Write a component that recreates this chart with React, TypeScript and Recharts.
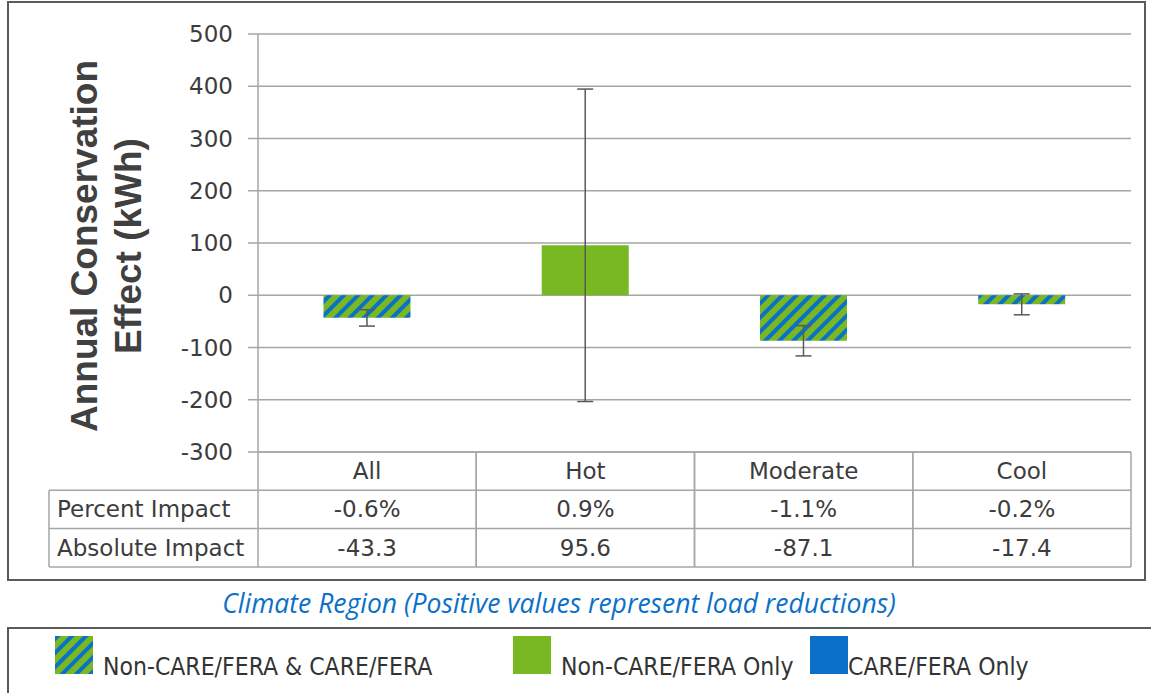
import { Bar, BarChart, CartesianGrid, Cell, ErrorBar, XAxis, YAxis } from 'recharts';

const regions = ['All', 'Hot', 'Moderate', 'Cool'];
const absoluteImpact = [-43.3, 95.6, -87.1, -17.4];
const percentImpact = ['-0.6%', '0.9%', '-1.1%', '-0.2%'];
const errorHalf = [15.7, 299, 29, 20];
const regionGroup = ['both', 'nonCare', 'both', 'both'];
const yTicks = [-300, -200, -100, 0, 100, 200, 300, 400, 500];
const rowLabels = ['Percent Impact', 'Absolute Impact'];
const groupKeys = ['both', 'nonCare', 'care'];
const groupLabels = ['Non-CARE/FERA & CARE/FERA', 'Non-CARE/FERA Only', 'CARE/FERA Only'];

const GREEN = '#78b823';
const BLUE = '#0a70c8';
const GRID = '#a6a6a6';
const TEXT = '#3c3c3c';
const FONT = '"DejaVu Sans", sans-serif';

const groupFill: Record<string, string> = { both: 'url(#hatch)', nonCare: GREEN, care: BLUE };

const data = regions.map((region, i) => ({
  region,
  value: absoluteImpact[i],
  err: errorHalf[i],
  pct: percentImpact[i],
  group: regionGroup[i],
}));

const W = 1151;
const H = 693;
const MARGIN = { top: 34, right: 20, bottom: 126, left: 0 };
const Y_W = 258;
const ROW_H = 38.3;
const TABLE_LEFT = 49;

function TableTick(props: any) {
  const { x, y, payload } = props;
  const i = payload?.index ?? props.index ?? 0;
  const half = payload?.offset || (W - MARGIN.right - Y_W) / regions.length / 2;
  const l = x - half;
  const r = x + half;
  const d = data[i];
  const line = { stroke: GRID, strokeWidth: 1.5 };
  const txt = { fontFamily: FONT, fontSize: 23, fill: TEXT, dominantBaseline: 'central' as const };
  return (
    <g>
      <line x1={l} y1={y} x2={l} y2={y + ROW_H * 3} {...line} />
      <line x1={r} y1={y} x2={r} y2={y + ROW_H * 3} {...line} />
      <line x1={l} y1={y + ROW_H} x2={r} y2={y + ROW_H} {...line} />
      <line x1={l} y1={y + ROW_H * 2} x2={r} y2={y + ROW_H * 2} {...line} />
      <line x1={l} y1={y + ROW_H * 3} x2={r} y2={y + ROW_H * 3} {...line} />
      <text x={x} y={y + ROW_H * 0.5} textAnchor="middle" {...txt}>{d.region}</text>
      <text x={x} y={y + ROW_H * 1.5} textAnchor="middle" {...txt}>{d.pct}</text>
      <text x={x} y={y + ROW_H * 2.5} textAnchor="middle" {...txt}>{d.value.toFixed(1)}</text>
      {i === 0 && (
        <g>
          <line x1={TABLE_LEFT} y1={y + ROW_H} x2={l} y2={y + ROW_H} {...line} />
          <line x1={TABLE_LEFT} y1={y + ROW_H * 2} x2={l} y2={y + ROW_H * 2} {...line} />
          <line x1={TABLE_LEFT} y1={y + ROW_H * 3} x2={l} y2={y + ROW_H * 3} {...line} />
          <line x1={TABLE_LEFT} y1={y + ROW_H} x2={TABLE_LEFT} y2={y + ROW_H * 3} {...line} />
          {rowLabels.map((lab, k) => (
            <text key={lab} x={TABLE_LEFT + 8} y={y + ROW_H * (1.5 + k)} textAnchor="start" {...txt}>{lab}</text>
          ))}
        </g>
      )}
    </g>
  );
}

function renderYLabel(props: any) {
  const vb = props.viewBox || { x: 0, y: MARGIN.top, height: 418 };
  const cy = vb.y + vb.height / 2 + 3;
  const lines = [
    { text: 'Annual Conservation', x: vb.x + 97 },
    { text: 'Effect (kWh)', x: vb.x + 141 },
  ];
  return (
    <g>
      {lines.map((ln) => (
        <text
          key={ln.text}
          x={ln.x}
          y={cy}
          transform={`rotate(-90, ${ln.x}, ${cy})`}
          textAnchor="middle"
          fontFamily='"Liberation Sans", Arial, sans-serif'
          fontWeight="bold"
          fontSize={37}
          fill="#404040"
        >
          {ln.text}
        </text>
      ))}
    </g>
  );
}

function Swatch({ fill }: { fill: string }) {
  return (
    <svg width={38} height={38} style={{ display: 'block' }}>
      <rect x={0} y={0} width={38} height={38} fill={fill} />
    </svg>
  );
}

const legendX = [55, 513, 810];
const legendGap = [10, 10, 0];

export default function App() {
  return (
    <div style={{ position: 'absolute', left: 0, top: 0, width: W, height: H, overflow: 'hidden', background: '#fff' }}>
      <svg width={0} height={0} style={{ position: 'absolute' }}>
        <defs>
          <pattern id="hatch" patternUnits="userSpaceOnUse" width={10} height={10} patternTransform="rotate(45)">
            <rect width={10} height={10} fill={GREEN} />
            <rect width={4} height={10} fill={BLUE} />
          </pattern>
        </defs>
      </svg>
      <div
        style={{
          position: 'absolute',
          left: 7,
          top: 1,
          width: 1139,
          height: 580,
          boxSizing: 'border-box',
          border: '2px solid #5a5a5a',
        }}
      />
      <div style={{ position: 'absolute', left: 0, top: 0 }}>
        <BarChart width={W} height={H} data={data} margin={MARGIN} barCategoryGap="30%">
          <CartesianGrid vertical={false} stroke={GRID} strokeWidth={1.5} />
          <XAxis
            dataKey="region"
            height={115}
            interval={0}
            tickLine={false}
            tickSize={0}
            tickMargin={0}
            axisLine={{ stroke: GRID, strokeWidth: 1.5 }}
            tick={<TableTick />}
          />
          <YAxis
            width={Y_W}
            domain={[-300, 500]}
            ticks={yTicks}
            interval={0}
            tickSize={10}
            tickMargin={15}
            axisLine={{ stroke: GRID, strokeWidth: 1.5 }}
            tickLine={{ stroke: GRID, strokeWidth: 1.5 }}
            tick={{ fontFamily: FONT, fontSize: 23, fill: TEXT }}
            label={renderYLabel}
          />
          <Bar dataKey="value" isAnimationActive={false}>
            {data.map((d) => (
              <Cell key={d.region} fill={groupFill[d.group]} />
            ))}
            <ErrorBar dataKey="err" width={8} stroke="#595959" strokeWidth={1.5} direction="y" />
          </Bar>
        </BarChart>
      </div>
      <div
        style={{
          position: 'absolute',
          left: 0,
          top: 587,
          width: 1118,
          lineHeight: '32px',
          textAlign: 'center',
          fontFamily: '"Open Sans", sans-serif',
          fontStyle: 'italic',
          fontSize: 26.5,
          color: '#0a70c8',
        }}
      >
        Climate Region (Positive values represent load reductions)
      </div>
      <div
        style={{
          position: 'absolute',
          left: 7,
          top: 627,
          width: 1160,
          height: 90,
          boxSizing: 'border-box',
          border: '2px solid #5a5a5a',
        }}
      />
      {groupKeys.map((g, i) => (
        <div
          key={g}
          style={{
            position: 'absolute',
            left: legendX[i],
            top: 636,
            display: 'flex',
            alignItems: 'flex-end',
            gap: legendGap[i],
          }}
        >
          <Swatch fill={groupFill[g]} />
          <span
            style={{
              fontFamily: '"Liberation Sans Narrow", "DejaVu Sans Condensed", sans-serif',
              fontSize: 24.5,
              color: '#333',
              lineHeight: '28px',
              marginBottom: -7,
            }}
          >
            {groupLabels[i]}
          </span>
        </div>
      ))}
    </div>
  );
}
